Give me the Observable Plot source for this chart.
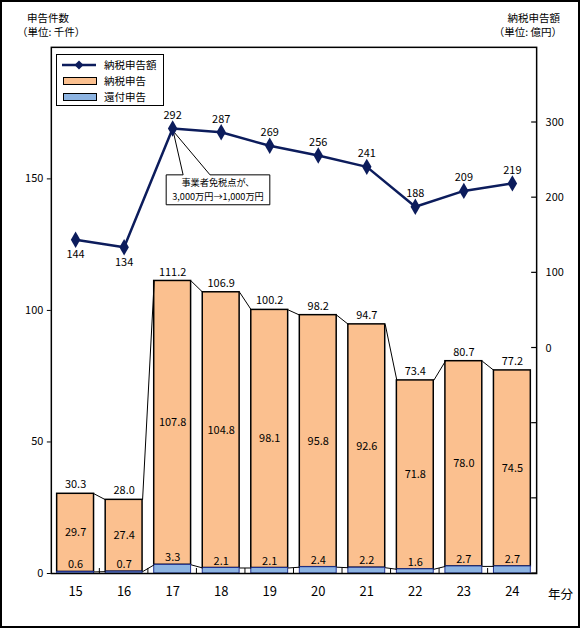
<!DOCTYPE html>
<html><head><meta charset="utf-8">
<script src="https://cdn.jsdelivr.net/npm/d3@7"></script>
<script src="https://cdn.jsdelivr.net/npm/@observablehq/plot@0.6"></script>
<style>
body{margin:0;background:#fff;font-family:"Noto Sans CJK JP",sans-serif;}
#wrap{position:relative;width:580px;height:628px;box-sizing:border-box;border:2px solid #000;overflow:hidden;}
#chart{position:absolute;left:-2px;top:-2px;}
.t{position:absolute;font-size:10.5px;white-space:nowrap;color:#000;line-height:1;}
#legend{position:absolute;left:54px;top:52px;width:108px;height:52px;box-sizing:border-box;border:1.5px solid #000;background:#fff;}
.row{position:absolute;left:0;height:14px;font-size:10.5px;line-height:14px;}
.sw{position:absolute;left:6px;width:34px;height:8px;top:3px;box-sizing:border-box;border:1px solid #000;}
.lab{position:absolute;left:47px;top:0;white-space:nowrap;}
</style></head>
<body>
<div id="wrap">
  <div id="chart"></div>
  <div class="t" style="left:25px;top:11px;">申告件数</div>
  <div class="t" style="left:15px;top:25px;">（単位: 千件）</div>
  <div class="t" style="right:18px;top:11px;text-align:right;">納税申告額</div>
  <div class="t" style="right:16px;top:25px;text-align:right;">（単位: 億円）</div>
  <div class="t" style="left:546px;top:586px;font-size:12.5px;">年分</div>
  <div id="legend">
    <div class="row" style="top:3px;width:100%;">
      <svg style="position:absolute;left:5px;top:0" width="36" height="14"><line x1="0" y1="7" x2="34" y2="7" stroke="#0c1c5c" stroke-width="2.5"/><path d="M17,2.5 L21.5,7 L17,11.5 L12.5,7Z" fill="#0c1c5c"/></svg>
      <span class="lab" id="l1"></span>
    </div>
    <div class="row" style="top:19px;width:100%;"><div class="sw" style="background:#fbc08f"></div><span class="lab" id="l2"></span></div>
    <div class="row" style="top:35px;width:100%;"><div class="sw" style="background:#8db4e2"></div><span class="lab" id="l3"></span></div>
  </div>
</div>
<script>
// ---- data ----
const years = [15, 16, 17, 18, 19, 20, 21, 22, 23, 24];
const kanpu = [0.6, 0.7, 3.3, 2.1, 2.1, 2.4, 2.2, 1.6, 2.7, 2.7];        // 還付申告 (千件)
const nozei = [29.7, 27.4, 107.8, 104.8, 98.1, 95.8, 92.6, 71.8, 78.0, 74.5]; // 納税申告 (千件)
const total = [30.3, 28.0, 111.2, 106.9, 100.2, 98.2, 94.7, 73.4, 80.7, 77.2]; // 合計 (千件)
const amount = [144, 134, 292, 287, 269, 256, 241, 188, 209, 219];      // 納税申告額 (億円)
const leftTicks = [0, 50, 100, 150];
const rightTicks = [-300, -200, -100, 0, 100, 200, 300];
const rightLabels = [0, 100, 200, 300];
const seriesNames = ["納税申告額", "納税申告", "還付申告"];
const note = ["事業者免税点が、", "3,000万円→1,000万円"];
const noteYear = 17;
const labelBelowYears = [15, 16];

document.getElementById("l1").textContent = seriesNames[0];
document.getElementById("l2").textContent = seriesNames[1];
document.getElementById("l3").textContent = seriesNames[2];

// ---- derived ----
const leftDomain = [0, 200];
const rightDomain = [-300, 400];
const toLeft = v => (v - rightDomain[0]) * (leftDomain[1] - leftDomain[0]) / (rightDomain[1] - rightDomain[0]) + leftDomain[0];
const fromLeft = v => (v - leftDomain[0]) * (rightDomain[1] - rightDomain[0]) / (leftDomain[1] - leftDomain[0]) + rightDomain[0];

const rows = years.map((y, i) => ({year: y, kanpu: kanpu[i], nozei: nozei[i], total: total[i], amount: amount[i], amt: toLeft(amount[i])}));
const hw = 0.38;
const pairs = rows.slice(0, -1).map((r, i) => ({a: r, b: rows[i + 1]}));
const rowsBelow = rows.filter(d => labelBelowYears.includes(d.year));
const rowsAbove = rows.filter(d => !labelBelowYears.includes(d.year));

const NAVY = "#0c1c5c", ORANGE = "#fbc08f", BLUE = "#8db4e2";
const FONT = '"Noto Sans CJK JP", sans-serif';

const deco = (index, scales, values, dim) => {
  const g = d3.create("svg:g");
  const x = scales.x, y = scales.y;
  const xr = dim.width - dim.marginRight, yb = dim.height - dim.marginBottom;
  // inward right-axis ticks
  for (const t of rightTicks) {
    const yy = y(toLeft(t));
    g.append("line").attr("x1", xr - 5).attr("x2", xr).attr("y1", yy).attr("y2", yy).attr("stroke", "#000").attr("stroke-width", 1.2);
  }
  // category boundary ticks
  for (let i = 0; i < years.length - 1; i++) {
    const xx = x(years[i] + 0.5);
    g.append("line").attr("x1", xx).attr("x2", xx).attr("y1", yb).attr("y2", yb - 5).attr("stroke", "#000").attr("stroke-width", 1);
  }
  // callout
  const i = years.indexOf(noteYear);
  const px = x(noteYear), py = y(toLeft(amount[i]));
  const L = px - 6, R = px + 98, T = py + 47, B = py + 77;
  g.append("path")
    .attr("d", `M${L},${T}L${px + 11},${T}L${px + 1},${py + 3}L${px + 38},${T}L${R},${T}L${R},${B}L${L},${B}Z`)
    .attr("fill", "#fff").attr("stroke", "#000").attr("stroke-width", 1);
  note.forEach((s, k) => {
    g.append("text").attr("x", (L + R) / 2).attr("y", T + 9 + k * 13.5)
      .attr("text-anchor", "middle").attr("dominant-baseline", "middle")
      .attr("font-size", 9.2).attr("font-family", FONT).attr("fill", "#000").text(s);
  });
  return g.node();
};

const chart = Plot.plot({
  width: 580,
  height: 628,
  marginTop: 47,
  marginBottom: 53,
  marginLeft: 51,
  marginRight: 42,
  style: {fontFamily: FONT, fontSize: "11px", color: "#000", background: "transparent"},
  x: {domain: [years[0] - 0.5, years[years.length - 1] + 0.5]},
  y: {domain: leftDomain},
  marks: [
    Plot.rectY(rows, {x1: d => d.year - hw, x2: d => d.year + hw, y1: "kanpu", y2: "total", fill: ORANGE, stroke: "#000", strokeWidth: 1.5}),
    Plot.rectY(rows, {x1: d => d.year - hw, x2: d => d.year + hw, y1: 0, y2: "kanpu", fill: BLUE, stroke: "#1f2f8f", strokeWidth: 1}),
    Plot.link(pairs, {x1: d => d.a.year + hw, x2: d => d.b.year - hw, y1: d => d.a.total, y2: d => d.b.total, stroke: "#000", strokeWidth: 1}),
    Plot.link(pairs, {x1: d => d.a.year + hw, x2: d => d.b.year - hw, y1: d => d.a.kanpu, y2: d => d.b.kanpu, stroke: "#000", strokeWidth: 1}),
    Plot.frame({stroke: "#000", strokeWidth: 1.5}),
    Plot.axisY({anchor: "left", ticks: leftTicks, tickSize: 4, tickPadding: 4, label: null, fontSize: 11}),
    Plot.axisY({anchor: "right", ticks: rightLabels.map(toLeft), tickSize: 0, tickPadding: 9, label: null, fontSize: 11,
      tickFormat: d => String(Math.round(fromLeft(d)))}),
    Plot.axisX({ticks: years, tickSize: 0, tickPadding: 13, label: null, fontSize: 13, tickFormat: d => String(d)}),
    deco,
    Plot.line(rows, {x: "year", y: "amt", stroke: NAVY, strokeWidth: 2.5}),
    Plot.dot(rows, {x: "year", y: "amt", symbol: "diamond", r: 5, fill: NAVY, stroke: null}),
    Plot.text(rowsAbove, {x: "year", y: "amt", text: d => String(d.amount), dy: -13, fontSize: 11, fill: "#000"}),
    Plot.text(rowsBelow, {x: "year", y: "amt", text: d => String(d.amount), dy: 15, fontSize: 11, fill: "#000"}),
    Plot.text(rows, {x: "year", y: "total", text: d => d.total.toFixed(1), dy: -9, fontSize: 11, fill: "#000"}),
    Plot.text(rows, {x: "year", y: d => (d.kanpu + d.total) / 2, text: d => d.nozei.toFixed(1), fontSize: 11, fill: "#000"}),
    Plot.text(rows, {x: "year", y: "kanpu", text: d => d.kanpu.toFixed(1), dy: -7, fontSize: 11, fill: "#000"})
  ]
});
document.getElementById("chart").appendChild(chart);
</script>
</body></html>
